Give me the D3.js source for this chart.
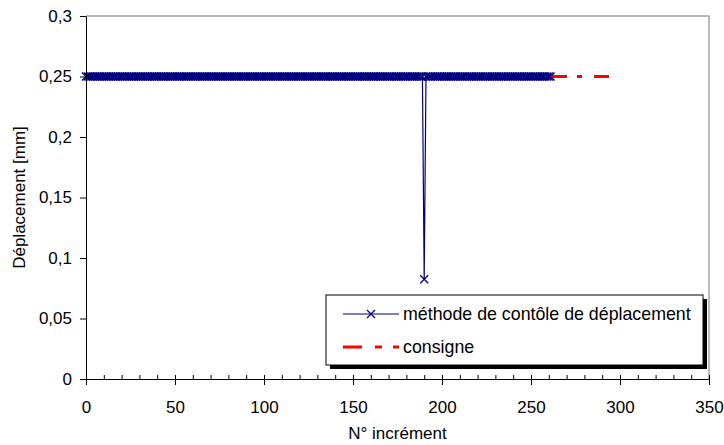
<!DOCTYPE html>
<html>
<head>
<meta charset="utf-8">
<script src="https://cdn.jsdelivr.net/npm/d3@7"></script>
<style>
  body { margin: 0; background: #fff; }
  text { font-family: "Liberation Sans", Arial, sans-serif; fill: #000; }
</style>
</head>
<body>
<div id="chart"></div>
<script>
// displacement per increment (index = N° incrément)
const deplacement = [
  0.25, 0.25, 0.25, 0.25, 0.25, 0.25, 0.25, 0.25, 0.25, 0.25,
  0.25, 0.25, 0.25, 0.25, 0.25, 0.25, 0.25, 0.25, 0.25, 0.25,
  0.25, 0.25, 0.25, 0.25, 0.25, 0.25, 0.25, 0.25, 0.25, 0.25,
  0.25, 0.25, 0.25, 0.25, 0.25, 0.25, 0.25, 0.25, 0.25, 0.25,
  0.25, 0.25, 0.25, 0.25, 0.25, 0.25, 0.25, 0.25, 0.25, 0.25,
  0.25, 0.25, 0.25, 0.25, 0.25, 0.25, 0.25, 0.25, 0.25, 0.25,
  0.25, 0.25, 0.25, 0.25, 0.25, 0.25, 0.25, 0.25, 0.25, 0.25,
  0.25, 0.25, 0.25, 0.25, 0.25, 0.25, 0.25, 0.25, 0.25, 0.25,
  0.25, 0.25, 0.25, 0.25, 0.25, 0.25, 0.25, 0.25, 0.25, 0.25,
  0.25, 0.25, 0.25, 0.25, 0.25, 0.25, 0.25, 0.25, 0.25, 0.25,
  0.25, 0.25, 0.25, 0.25, 0.25, 0.25, 0.25, 0.25, 0.25, 0.25,
  0.25, 0.25, 0.25, 0.25, 0.25, 0.25, 0.25, 0.25, 0.25, 0.25,
  0.25, 0.25, 0.25, 0.25, 0.25, 0.25, 0.25, 0.25, 0.25, 0.25,
  0.25, 0.25, 0.25, 0.25, 0.25, 0.25, 0.25, 0.25, 0.25, 0.25,
  0.25, 0.25, 0.25, 0.25, 0.25, 0.25, 0.25, 0.25, 0.25, 0.25,
  0.25, 0.25, 0.25, 0.25, 0.25, 0.25, 0.25, 0.25, 0.25, 0.25,
  0.25, 0.25, 0.25, 0.25, 0.25, 0.25, 0.25, 0.25, 0.25, 0.25,
  0.25, 0.25, 0.25, 0.25, 0.25, 0.25, 0.25, 0.25, 0.25, 0.25,
  0.25, 0.25, 0.25, 0.25, 0.25, 0.25, 0.25, 0.25, 0.25, 0.25,
  0.0825, 0.25, 0.25, 0.25, 0.25, 0.25, 0.25, 0.25, 0.25, 0.25,
  0.25, 0.25, 0.25, 0.25, 0.25, 0.25, 0.25, 0.25, 0.25, 0.25,
  0.25, 0.25, 0.25, 0.25, 0.25, 0.25, 0.25, 0.25, 0.25, 0.25,
  0.25, 0.25, 0.25, 0.25, 0.25, 0.25, 0.25, 0.25, 0.25, 0.25,
  0.25, 0.25, 0.25, 0.25, 0.25, 0.25, 0.25, 0.25, 0.25, 0.25,
  0.25, 0.25, 0.25, 0.25, 0.25, 0.25, 0.25, 0.25, 0.25, 0.25,
  0.25, 0.25, 0.25, 0.25, 0.25, 0.25, 0.25, 0.25, 0.25, 0.25,
  0.25, 0.25
];

const consigneX = [0, 296];
const consigneY = [0.25, 0.25];

const xTicks = [0, 50, 100, 150, 200, 250, 300, 350];
const xMinorTicks = [0, 10, 20, 30, 40, 50, 60, 70, 80, 90, 100, 110, 120, 130, 140, 150, 160, 170,
  180, 190, 200, 210, 220, 230, 240, 250, 260, 270, 280, 290, 300, 310, 320, 330, 340, 350];
const yTicks = [0, 0.05, 0.1, 0.15, 0.2, 0.25, 0.3];
const yTickLabels = ["0", "0,05", "0,1", "0,15", "0,2", "0,25", "0,3"];

const seriesNames = ["méthode de contôle de déplacement", "consigne"];

const W = 724, H = 445;
const plot = { left: 86, right: 709, top: 16, bottom: 379 };

const svg = d3.select("#chart").append("svg")
    .attr("width", W)
    .attr("height", H);

const x = d3.scaleLinear().domain([0, 350]).range([plot.left, plot.right]);
const y = d3.scaleLinear().domain([0, 0.3]).range([plot.bottom, plot.top]);

// top / right frame
svg.append("path")
    .attr("d", `M${plot.left},${plot.top}H${plot.right}V${plot.bottom}`)
    .attr("fill", "none")
    .attr("stroke", "#a4a4a4")
    .attr("stroke-width", 1.5);

// consigne (drawn under)
const consigne = consigneX.map((d, i) => [d, consigneY[i]]);
svg.append("path")
    .datum(consigne)
    .attr("d", d3.line().x(d => x(d[0])).y(d => y(d[1])))
    .attr("fill", "none")
    .attr("stroke", "#ff0000")
    .attr("stroke-width", 3)
    .attr("stroke-dasharray", "15,10,5,12")
    .attr("stroke-dashoffset", 38);

// displacement series
const serie = deplacement.map((v, i) => [i, v]);
svg.append("path")
    .datum(serie)
    .attr("d", d3.line().x(d => x(d[0])).y(d => y(d[1])))
    .attr("fill", "none")
    .attr("stroke", "#000080")
    .attr("stroke-width", 1.2);

const cross = "M-4,-4L4,4M-4,4L4,-4";
svg.append("g").selectAll("path")
    .data(serie)
    .join("path")
    .attr("transform", d => `translate(${x(d[0])},${y(d[1])})`)
    .attr("d", cross)
    .attr("stroke", "#000080")
    .attr("stroke-width", 1.3)
    .attr("fill", "none");

// x axis: minor ticks inside, major ticks crossing
svg.append("g")
    .attr("transform", `translate(0,${plot.bottom})`)
    .call(d3.axisBottom(x).tickValues(xMinorTicks).tickSize(-4).tickFormat(""))
    .call(g => g.select(".domain").remove());

const xAxis = svg.append("g")
    .attr("transform", `translate(0,${plot.bottom})`)
    .call(d3.axisBottom(x).tickValues(xTicks).tickSizeInner(6).tickSizeOuter(0).tickPadding(16));
xAxis.selectAll(".tick line").attr("y1", -4);
xAxis.selectAll("text").style("font-size", "17px").attr("fill", "#000");

const yAxis = svg.append("g")
    .attr("transform", `translate(${plot.left},0)`)
    .call(d3.axisLeft(y).tickValues(yTicks).tickSizeInner(6).tickSizeOuter(0).tickPadding(8)
        .tickFormat((d, i) => yTickLabels[i]));
yAxis.selectAll("text").style("font-size", "17px").attr("fill", "#000");

svg.selectAll(".domain").attr("stroke", "#000");
svg.selectAll(".tick line").attr("stroke", "#000");

// axis titles
svg.append("text")
    .attr("x", (plot.left + plot.right) / 2)
    .attr("y", 439)
    .attr("text-anchor", "middle")
    .style("font-size", "17px")
    .text("N° incrément");

svg.append("text")
    .attr("transform", `translate(25,${(plot.top + plot.bottom) / 2}) rotate(-90)`)
    .attr("text-anchor", "middle")
    .style("font-size", "17px")
    .text("Déplacement [mm]");

// legend
const legend = svg.append("g").attr("transform", "translate(326,295)");
legend.append("rect")
    .attr("x", 4).attr("y", 4)
    .attr("width", 377).attr("height", 70)
    .attr("fill", "#000");
legend.append("rect")
    .attr("width", 377).attr("height", 70)
    .attr("fill", "#fff")
    .attr("stroke", "#000")
    .attr("stroke-width", 1);

legend.append("line")
    .attr("x1", 17).attr("x2", 73).attr("y1", 19).attr("y2", 19)
    .attr("stroke", "#000080").attr("stroke-width", 1.2);
legend.append("path")
    .attr("transform", "translate(45,19)")
    .attr("d", cross)
    .attr("stroke", "#000080").attr("stroke-width", 1.3).attr("fill", "none");
legend.append("line")
    .attr("x1", 17).attr("x2", 73).attr("y1", 52).attr("y2", 52)
    .attr("stroke", "#ff0000").attr("stroke-width", 3)
    .attr("stroke-dasharray", "19,13,7,11");

legend.selectAll("text.lbl")
    .data(seriesNames)
    .join("text")
    .attr("class", "lbl")
    .attr("x", 77)
    .attr("y", (d, i) => 25 + i * 33)
    .style("font-size", "17.8px")
    .text(d => d);
</script>
</body>
</html>
